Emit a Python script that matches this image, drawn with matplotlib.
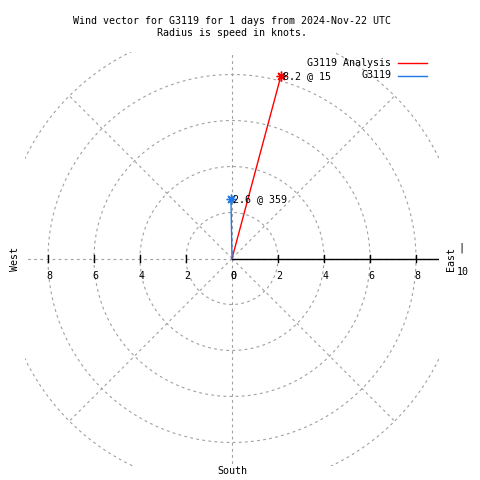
import numpy as np
import matplotlib
matplotlib.use('Agg')
from matplotlib import pyplot as plt

# wind vectors: speed in knots, direction in degrees (0 = north, clockwise)
SERIES_NAMES = ['G3119 Analysis', 'G3119']
SPEEDS = [8.2, 2.6]
DIRECTIONS = [15, 359]
COLORS = ['#ff0000', '#1e78e6']

RING_RADII = [2, 4, 6, 8, 10]
SPOKE_ANGLES = [0, 45, 90, 135, 180, 225, 270, 315]
TICK_VALUES = [0, 2, 4, 6, 8]
LIMIT = 9

TITLE = 'Wind vector for G3119 for 1 days from 2024-Nov-22 UTC\nRadius is speed in knots.'

plt.rcParams['font.family'] = ['DejaVu Sans Mono']
FS = 7.2
GRID = dict(color='#a0a0a0', lw=0.8, linestyle=(0, (2.5, 3)))

fig = plt.figure(figsize=(4.8, 4.8), dpi=100)
ax = fig.add_axes([25 / 480, 14.5 / 480, 414 / 480, 414 / 480])
ax.set_xlim(-LIMIT, LIMIT)
ax.set_ylim(-LIMIT, LIMIT)
ax.set_aspect('equal')
ax.axis('off')

# grid rings and spokes
t = np.linspace(0, 2 * np.pi, 400)
for r in RING_RADII:
    ax.plot(r * np.cos(t), r * np.sin(t), **GRID)
for a in SPOKE_ANGLES:
    rad = np.radians(a)
    ax.plot([0, 10 * np.cos(rad)], [0, 10 * np.sin(rad)], **GRID)

# radial axis (east) and tick marks
ax.plot([0, LIMIT], [0, 0], color='black', lw=1)
for v in TICK_VALUES[1:]:
    for s in (-1, 1):
        ax.plot([s * v, s * v], [-0.15, 0.15], color='black', lw=1)
for v in TICK_VALUES:
    ax.text(-v + 0.05, -0.55, str(v), ha='center', va='top', fontsize=FS)
    ax.text(v + 0.05, -0.55, str(v), ha='center', va='top', fontsize=FS)

# wind vectors
for name, spd, d, c in zip(SERIES_NAMES, SPEEDS, DIRECTIONS, COLORS):
    rad = np.radians(d)
    x, y = spd * np.sin(rad), spd * np.cos(rad)
    ax.plot([0, x], [0, y], color=c, lw=1)
    ax.plot([x], [y], marker=(8, 2, 0), color=c, ms=7, mew=1)
    ax.text(x + 0.1, y, '%.1f @ %d' % (spd, d), ha='left', va='center', fontsize=FS)

# compass labels
fig.text(15 / 480, 1 - 259 / 480, 'West', rotation=90, ha='center', va='center', fontsize=FS)
fig.text(451 / 480, 1 - 259 / 480, 'East', rotation=90, ha='center', va='center', fontsize=FS)
fig.text(461 / 480, 1 - 248 / 480, '|', ha='center', va='center', fontsize=FS)
fig.text(463 / 480, 1 - 272 / 480, '10', ha='center', va='center', fontsize=FS)
fig.text(232 / 480, 1 - 471 / 480, 'South', ha='center', va='center', fontsize=FS)

# title
fig.text(232 / 480, 1 - 27 / 480, TITLE, ha='center', va='center', fontsize=FS,
         linespacing=1.35)

# legend
for i, (name, c) in enumerate(zip(SERIES_NAMES, COLORS)):
    yy = 1 - (63 + 12.5 * i) / 480
    fig.text(391 / 480, yy, name, ha='right', va='center', fontsize=FS)
    fig.add_artist(plt.Line2D([398 / 480, 427 / 480], [yy, yy], color=c, lw=1,
                              transform=fig.transFigure))

fig.savefig('out.png', dpi=100)
